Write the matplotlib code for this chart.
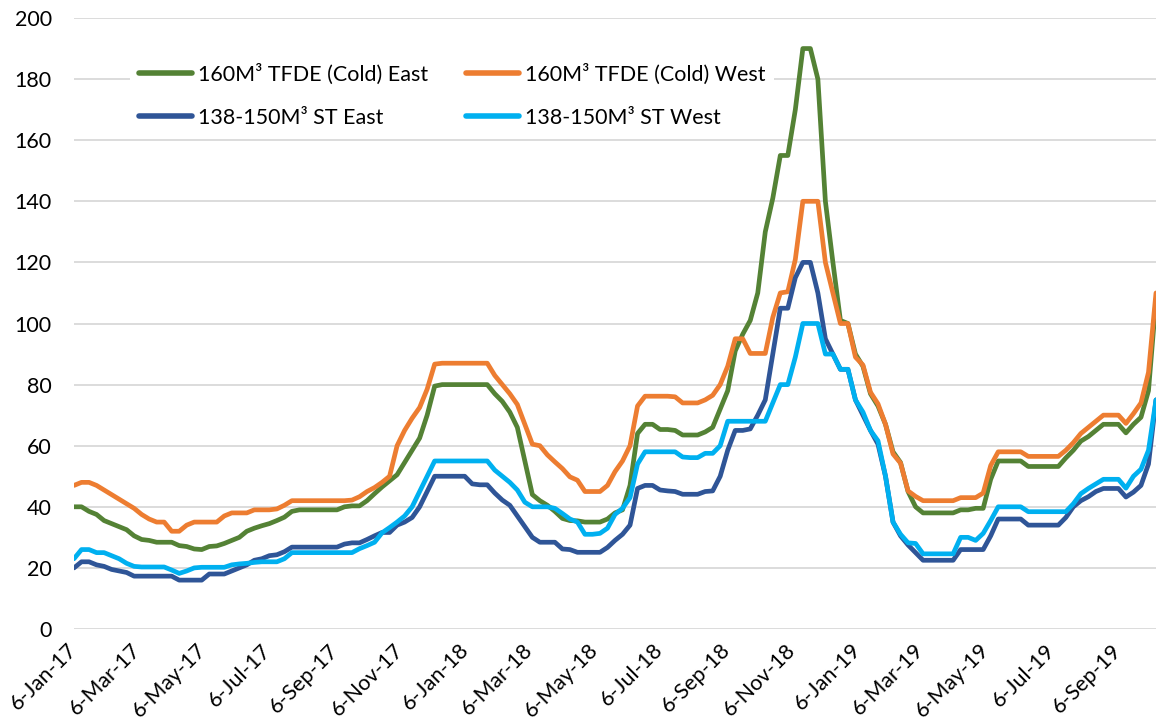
import pandas as pd
import matplotlib.pyplot as plt
from matplotlib.transforms import ScaledTranslation

plt.rcParams['font.family'] = ['Lato', 'DejaVu Sans']

# weekly observations, every Friday from 6-Jan-17
start_date = "2017-01-06"
n_weeks = 145

tfde_east = [
    40, 40, 38.5, 37.5, 35.5, 34.5, 33.5, 32.5, 30.5, 29.3,
    29, 28.4, 28.4, 28.4, 27.3, 27, 26.2, 26, 27, 27.2,
    28, 29, 30, 32, 33, 33.8, 34.5, 35.5, 36.6, 38.5,
    39, 39, 39, 39, 39, 39, 40, 40.3, 40.3, 42,
    44.3, 46.5, 48.5, 50.5, 54.5, 58.5, 62.5, 70, 79.5, 80,
    80, 80, 80, 80, 80, 80, 77, 74.5, 71, 66,
    55, 44, 42, 40.5, 38.5, 36.2, 35.5, 35.4, 35, 35,
    35, 36, 38, 39, 47, 64, 67, 67, 65.3, 65.3,
    65, 63.5, 63.5, 63.5, 64.5, 66, 72, 78, 91, 96.5,
    101, 110, 130, 141, 155, 155, 170, 190, 190, 180,
    140, 120, 101, 100, 90, 86, 77, 73, 67, 58,
    54.5, 45, 40, 38, 38, 38, 38, 38, 39, 39,
    39.5, 39.5, 49, 55, 55, 55, 55, 53.2, 53.2, 53.2,
    53.2, 53.2, 56, 58.5, 61.5, 63, 65, 67, 67, 67,
    64.2, 67, 69.3, 78, 108,
]

tfde_west = [
    47, 48, 48, 47, 45.5, 44, 42.5, 41, 39.5, 37.5,
    36, 35, 35, 32, 32, 34, 35, 35, 35, 35,
    37, 38, 38, 38, 39, 39, 39, 39.3, 40.5, 42,
    42, 42, 42, 42, 42, 42, 42, 42.2, 43.3, 45,
    46.3, 48, 50, 60, 65, 69, 72.5, 78.5, 86.7, 87,
    87, 87, 87, 87, 87, 87, 83, 80, 77, 73.5,
    67, 60.5, 60, 57, 54.7, 52.5, 49.8, 48.7, 45, 45,
    45, 47, 51.5, 55, 60, 73, 76.2, 76.2, 76.2, 76.2,
    76, 74, 74, 74, 75, 76.5, 80, 86, 95, 95,
    90.2, 90.2, 90.2, 102, 110, 110.4, 121, 140, 140, 140,
    120, 110, 100, 100, 89, 86.4, 77.5, 73.7, 67, 57.3,
    54.3, 45.2, 43.4, 42, 42, 42, 42, 42, 43, 43,
    43, 44.5, 53.5, 58, 58, 58, 58, 56.5, 56.5, 56.5,
    56.5, 56.5, 58.5, 61, 64, 66, 68, 70, 70, 70,
    67.3, 70.5, 74, 84, 110,
]

st_east = [
    20, 22, 22, 21, 20.5, 19.5, 19, 18.5, 17.3, 17.3,
    17.3, 17.3, 17.3, 17.3, 16, 16, 16, 16, 18, 18,
    18, 19, 20, 21, 22.5, 23, 24, 24.3, 25.3, 26.8,
    26.8, 26.8, 26.8, 26.8, 26.8, 26.8, 27.8, 28.2, 28.2, 29.3,
    30.5, 31.6, 31.6, 34, 35, 36.5, 40, 45, 50, 50,
    50, 50, 50, 47.5, 47.2, 47.2, 44.5, 42.2, 40.5, 37,
    33.5, 30, 28.4, 28.4, 28.4, 26.2, 26, 25.1, 25.1, 25.1,
    25.1, 26.7, 29, 31, 34, 46, 47, 47, 45.5, 45.2,
    45, 44.1, 44.1, 44.1, 45, 45.2, 50, 58.5, 65, 65,
    65.5, 70, 75, 90, 105, 105, 115, 120, 120, 110,
    95, 90, 85, 85, 75, 70, 65, 60.5, 50, 35,
    30.5, 27.5, 25, 22.5, 22.5, 22.5, 22.5, 22.5, 26, 26,
    26, 26, 30.5, 36, 36, 36, 36, 34, 34, 34,
    34, 34, 36.5, 40, 42, 43.3, 45, 46, 46, 46,
    43.2, 44.8, 47, 54, 75,
]

st_west = [
    23, 26, 26, 25, 25, 24, 23, 21.5, 20.5, 20.3,
    20.3, 20.3, 20.3, 19.3, 18.2, 19, 20, 20.2, 20.2, 20.2,
    20.2, 21, 21.3, 21.5, 21.8, 22, 22, 22, 23, 25,
    25, 25, 25, 25, 25, 25, 25, 25, 26.3, 27.3,
    28.4, 31.5, 33.2, 35, 37, 40, 45, 50, 55, 55,
    55, 55, 55, 55, 55, 55, 52, 50, 48, 45.5,
    41.5, 40, 40, 40, 39.5, 37.8, 36, 35, 31, 31,
    31.3, 33, 37.5, 39.5, 43, 54, 58, 58, 58, 58,
    58, 56.3, 56.1, 56.1, 57.5, 57.5, 60, 68, 68, 68,
    68, 68, 68, 74, 80, 80, 89, 100, 100, 100,
    90, 90, 85, 85, 75, 71, 65, 61.6, 50, 35,
    31, 28.2, 28, 24.6, 24.6, 24.6, 24.6, 24.6, 30, 30,
    29, 31.3, 35.5, 40, 40, 40, 40, 38.4, 38.4, 38.4,
    38.4, 38.4, 38.4, 41, 44.3, 46, 47.5, 49, 49, 49,
    46.1, 50, 52.3, 58.5, 75,
]

tick_labels = [
    "6-Jan-17", "6-Mar-17", "6-May-17", "6-Jul-17", "6-Sep-17", "6-Nov-17",
    "6-Jan-18", "6-Mar-18", "6-May-18", "6-Jul-18", "6-Sep-18", "6-Nov-18",
    "6-Jan-19", "6-Mar-19", "6-May-19", "6-Jul-19", "6-Sep-19",
]

series_names = [
    "160M³ TFDE (Cold) East",
    "160M³ TFDE (Cold) West",
    "138-150M³ ST East",
    "138-150M³ ST West",
]
series_values = [tfde_east, tfde_west, st_east, st_west]
colors = ["#548235", "#ED7D31", "#2F5597", "#00B0F0"]

dates = pd.date_range(start_date, periods=n_weeks, freq="7D")
tick_dates = pd.to_datetime(tick_labels, format="%d-%b-%y")

W, H = 1159, 724
fig = plt.figure(figsize=(W / 100, H / 100), dpi=100)
ax = fig.add_axes([74 / W, 1 - 629 / H, (1156 - 74) / W, (629 - 18) / H])

lines = []
for name, vals, col in zip(series_names, series_values, colors):
    ln, = ax.plot(dates, vals, color=col, lw=3.4, label=name,
                  solid_joinstyle="round", solid_capstyle="round")
    lines.append(ln)

ax.set_xlim(dates[0], dates[-1])
ax.set_ylim(0, 200)
ax.set_yticks(range(0, 201, 20))
ax.set_xticks(tick_dates)
ax.set_xticklabels(tick_labels, rotation=45, ha="right", va="center",
                   rotation_mode="anchor")
shift = ScaledTranslation(3 / 100, 0, fig.dpi_scale_trans)
for lbl in ax.get_xticklabels():
    lbl.set_transform(lbl.get_transform() + shift)

ax.grid(axis="y", color="#d9d9d9", lw=1.3)
ax.set_axisbelow(True)
for s in ax.spines.values():
    s.set_visible(False)
ax.tick_params(axis="both", length=0, labelsize=15.5, colors="black")
ax.tick_params(axis="y", pad=16)
ax.tick_params(axis="x", pad=13)

# Excel fills the legend row by row, matplotlib column by column
order = [0, 2, 1, 3]
leg = ax.legend([lines[i] for i in order], [series_names[i] for i in order],
                ncol=2, loc="upper left",
                bbox_to_anchor=(130 / W, 1 - 55 / H),
                bbox_transform=fig.transFigure,
                fontsize=15.5, frameon=True, facecolor="white",
                edgecolor="none", framealpha=1, fancybox=False,
                borderpad=0.4, borderaxespad=0, handlelength=2.5,
                handletextpad=0.25, columnspacing=1.75, labelspacing=1.06)
for h in leg.get_lines():
    h.set_linewidth(4)
    h.set_solid_capstyle("round")

fig.savefig("out.png", dpi=100)
